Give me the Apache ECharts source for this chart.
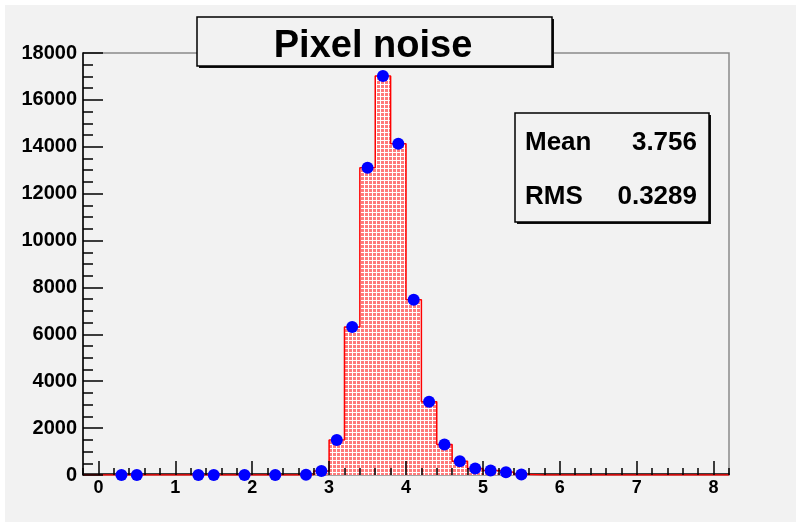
<!DOCTYPE html>
<html>
<head>
<meta charset="utf-8">
<script src="https://cdn.jsdelivr.net/npm/echarts@6/dist/echarts.min.js"></script>
<style>
  html, body { margin: 0; padding: 0; background: #ffffff; }
  #main { position: absolute; left: 5px; top: 5px; width: 791px; height: 517px; }
</style>
</head>
<body>
<div id="main"></div>
<script>
// histogram: first bin lower edge, bin width, entries per bin
const xMin = -0.2;
const xMax = 8.2;
const binWidth = 0.2;
const counts = [
  0, 0, 3, 3, 0, 0, 0, 3, 3, 0,
  3, 0, 4, 0, 12, 170, 1490, 6310, 13110, 17020,
  14130, 7480, 3120, 1300, 590, 280, 190, 120, 25, 0,
  0, 0, 0, 0, 0, 0, 0, 0, 0, 0,
  0, 0
];
const xTickLabels = [0, 1, 2, 3, 4, 5, 6, 7, 8];
const yTickLabels = [0, 2000, 4000, 6000, 8000, 10000, 12000, 14000, 16000, 18000];
const titleText = 'Pixel noise';
const statNames = ['Mean', 'RMS'];
const statValues = ['3.756', '0.3289'];

const font = 'Liberation Sans, Arial, Helvetica, sans-serif';

// step outline: one point per bin lower edge, plus the closing edge
const edge = i => +(xMin + i * binWidth).toFixed(2);
const stepData = counts.map((c, i) => [edge(i), c]);
stepData.push([edge(counts.length), counts[counts.length - 1]]);
// markers at bin centres for filled bins
const markerData = counts
  .map((c, i) => [+(xMin + (i + 0.5) * binWidth).toFixed(2), c])
  .filter(d => d[1] > 0);

// dotted red fill like the ROOT pattern: pink cells with white grid lines
const pat = document.createElement('canvas');
pat.width = 4; pat.height = 4;
const pg = pat.getContext('2d');
pg.fillStyle = '#ffffff';
pg.fillRect(0, 0, 4, 4);
pg.fillStyle = '#ff7a7a';
pg.fillRect(0, 0, 3, 3);

const chart = echarts.init(document.getElementById('main'));

const tickStyle = { color: '#000', width: 1.5 };

const option = {
  animation: false,
  backgroundColor: '#f2f2f2',
  grid: {
    left: 78, top: 48, width: 646, height: 422,
    show: true, borderColor: '#8a8a8a', borderWidth: 1.5, backgroundColor: 'transparent'
  },
  xAxis: [
    {
      type: 'value', min: xMin, max: xMax, position: 'bottom', offset: -1,
      axisLine: { show: true, lineStyle: { color: '#000', width: 1.5 } },
      axisTick: { show: false }, axisLabel: { show: false }, splitLine: { show: false },
      z: 0
    },
    {
      type: 'value', min: xMin, max: xMax, position: 'bottom',
      axisLine: { show: false },
      axisTick: { show: true, inside: true, length: 14, customValues: xTickLabels, lineStyle: tickStyle },
      axisLabel: {
        customValues: xTickLabels, margin: 4,
        fontSize: 18, fontWeight: 'bold', color: '#000', fontFamily: font
      },
      splitLine: { show: false },
      z: 5
    },
    {
      type: 'value', min: xMin, max: xMax, interval: binWidth, position: 'bottom',
      axisLine: { show: false },
      axisTick: { show: true, inside: true, length: 7, lineStyle: tickStyle },
      axisLabel: { show: false }, splitLine: { show: false },
      z: 5
    }
  ],
  yAxis: {
    type: 'value', min: yTickLabels[0], max: yTickLabels[yTickLabels.length - 1], interval: 2000,
    axisLine: { show: true, onZero: false, lineStyle: { color: '#000', width: 1.5 } },
    axisTick: { show: true, inside: true, length: 20, lineStyle: tickStyle },
    minorTick: { show: true, splitNumber: 4, length: 10, lineStyle: tickStyle },
    axisLabel: {
      margin: 6, fontSize: 20, fontWeight: 'bold', color: '#000', fontFamily: font,
      formatter: v => String(v)
    },
    splitLine: { show: false }, minorSplitLine: { show: false },
    z: 5
  },
  series: [
    {
      type: 'line', xAxisIndex: 0, step: 'end', data: stepData,
      showSymbol: false, symbol: 'none',
      lineStyle: { color: '#ff0000', width: 1.5 },
      areaStyle: { color: { image: pat, repeat: 'repeat' }, opacity: 1 },
      z: 3
    },
    {
      type: 'scatter', xAxisIndex: 0, data: markerData,
      symbol: 'circle', symbolSize: 12,
      itemStyle: { color: '#0000ff', opacity: 1 },
      z: 10
    }
  ],
  graphic: [
    // title box with shadow
    { type: 'rect', z: 100, shape: { x: 194, y: 14, width: 355, height: 49 }, style: { fill: '#111' } },
    { type: 'rect', z: 101, shape: { x: 192, y: 12, width: 355, height: 49 },
      style: { fill: '#f2f2f2', stroke: '#000', lineWidth: 1.5 } },
    { type: 'text', z: 102, style: {
        x: 368, y: 42, text: titleText, align: 'center', verticalAlign: 'middle',
        font: 'bold 38px ' + font, fill: '#000' } },
    // statistics box with shadow
    { type: 'rect', z: 100, shape: { x: 512, y: 110, width: 194, height: 109 }, style: { fill: '#111' } },
    { type: 'rect', z: 101, shape: { x: 510, y: 108, width: 194, height: 109 },
      style: { fill: '#f2f2f2', stroke: '#000', lineWidth: 1.5 } },
    { type: 'text', z: 102, style: { x: 520, y: 138, text: statNames[0], verticalAlign: 'middle',
        font: 'bold 26px ' + font, fill: '#000' } },
    { type: 'text', z: 102, style: { x: 692, y: 138, text: statValues[0], align: 'right', verticalAlign: 'middle',
        font: 'bold 26px ' + font, fill: '#000' } },
    { type: 'text', z: 102, style: { x: 520, y: 192, text: statNames[1], verticalAlign: 'middle',
        font: 'bold 26px ' + font, fill: '#000' } },
    { type: 'text', z: 102, style: { x: 692, y: 192, text: statValues[1], align: 'right', verticalAlign: 'middle',
        font: 'bold 26px ' + font, fill: '#000' } }
  ]
};

chart.setOption(option);
</script>
</body>
</html>
